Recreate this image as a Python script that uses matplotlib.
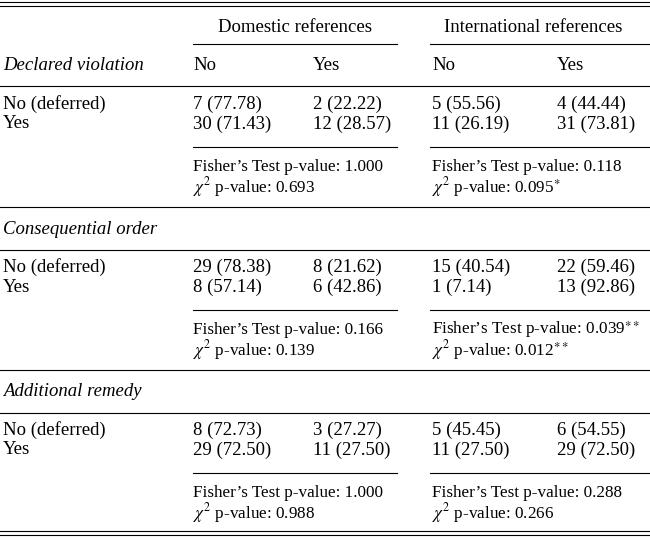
import matplotlib
matplotlib.use("Agg")
import matplotlib.pyplot as plt

sections = ["Declared violation", "Consequential order", "Additional remedy"]
row_labels = ["No (deferred)", "Yes"]
dom_no = [["7 (77.78)", "30 (71.43)"], ["29 (78.38)", "8 (57.14)"], ["8 (72.73)", "29 (72.50)"]]
dom_yes = [["2 (22.22)", "12 (28.57)"], ["8 (21.62)", "6 (42.86)"], ["3 (27.27)", "11 (27.50)"]]
int_no = [["5 (55.56)", "11 (26.19)"], ["15 (40.54)", "1 (7.14)"], ["5 (45.45)", "11 (27.50)"]]
int_yes = [["4 (44.44)", "31 (73.81)"], ["22 (59.46)", "13 (92.86)"], ["6 (54.55)", "29 (72.50)"]]
dom_fisher = ["1.000", "0.166", "1.000"]
dom_chi = ["0.693", "0.139", "0.988"]
int_fisher = ["0.118", "0.039**", "0.288"]
int_chi = ["0.095*", "0.012**", "0.266"]

plt.rcParams['font.family'] = ['Liberation Serif', 'DejaVu Serif']
plt.rcParams['mathtext.fontset'] = 'stix'
W, H = 650, 539
fig = plt.figure(figsize=(6.5, 5.39), dpi=100)
ax = fig.add_axes([0, 0, 1, 1])
ax.set_xlim(0, W); ax.set_ylim(H, 0); ax.axis('off')

def hl(y, x0=0, x1=W, lw=0.8):
    ax.plot([x0, x1], [y, y], color='black', lw=lw)

def fmt(v):
    if v.endswith('*'):
        n = v.count('*'); base = v.rstrip('*')
        return base + r"$^{" + r"\ast" * n + r"}$"
    return v

def t(x, y, s, size=13.5, **kw):
    ax.text(x, y, s, fontsize=size, va='center', **kw)

SM = 12.3
hl(2); hl(6)
t(295, 27, "Domestic references", ha='center')
t(533, 27, "International references", ha='center')
hl(44, 193, 397); hl(44, 430, W)
t(3, 66, sections[0], style='italic')
cols = [193, 313, 432, 557]
for x, s in zip(cols, ["No", "Yes", "No", "Yes"]):
    t(x, 66, s)
hl(86)

starts = [104, 267, 430]
for i, y0 in enumerate(starts):
    if i > 0:
        t(3, y0 - 38, sections[i], style='italic')
        hl(y0 - 17)
    for j in range(2):
        y = y0 + 20 * j
        t(3, y, row_labels[j])
        for x, arr in zip(cols, [dom_no, dom_yes, int_no, int_yes]):
            t(x, y, arr[i][j])
    hl(y0 + 43, 193, 397); hl(y0 + 43, 430, W)
    t(193, y0 + 63, "Fisher’s Test p-value: " + fmt(dom_fisher[i]), size=SM)
    t(193, y0 + 83, r"$\chi^2$ p-value: " + fmt(dom_chi[i]), size=SM)
    t(432, y0 + 63, "Fisher’s Test p-value: " + fmt(int_fisher[i]), size=SM)
    t(432, y0 + 83, r"$\chi^2$ p-value: " + fmt(int_chi[i]), size=SM)
    if i < 2:
        hl(y0 + 103)

hl(531); hl(535)
fig.savefig("out.png", dpi=100)
